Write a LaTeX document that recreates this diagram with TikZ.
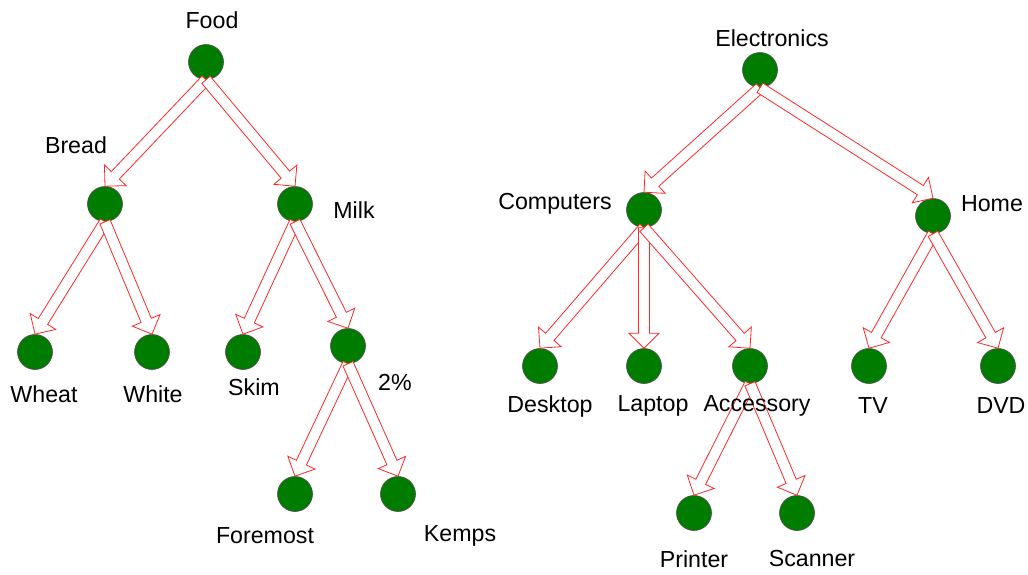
\documentclass[tikz,border=0pt]{standalone}
\usepackage{fontspec}
\setmainfont{Liberation Sans}
\usetikzlibrary{calc}
\definecolor{nodegreen}{RGB}{0,125,0}
\definecolor{arrred}{RGB}{255,40,40}
\tikzset{
  leaf/.style={circle,fill=nodegreen,draw=black!70,line width=0.6pt,minimum size=35pt,inner sep=0pt},
  lbl/.style={font=\fontsize{23.2}{27}\selectfont,inner sep=0pt,anchor=center},
  arrowline/.style={draw=arrred,fill=white,line width=0.8pt,line join=miter}
}
\newcommand\hollowarrow[2]{%
  \coordinate (s) at (#1.south);
  \coordinate (t) at (#2.north);
  \coordinate (h) at ($(t)!15pt!(s)$);
  \draw[arrowline] ($(s)!5.5pt!90:(t)$) -- ($(h)!5.5pt!-90:(s)$) -- ($(h)!15pt!-90:(s)$) -- (t)
     -- ($(h)!15pt!90:(s)$) -- ($(h)!5.5pt!90:(s)$) -- ($(s)!5.5pt!-90:(t)$) -- cycle;
}
\begin{document}
\begin{tikzpicture}[x=1pt,y=-1pt]
\useasboundingbox (0,0) rectangle (1028,574);
% nodes
\node[leaf] (food) at (206,62) {};
\node[leaf] (bread) at (105,204) {};
\node[leaf] (milk) at (295,204) {};
\node[leaf] (wheat) at (35,352) {};
\node[leaf] (white) at (152,352) {};
\node[leaf] (skim) at (243,352) {};
\node[leaf] (two) at (348,346) {};
\node[leaf] (foremost) at (295,494) {};
\node[leaf] (kemps) at (398,494) {};
\node[leaf] (elec) at (760,70) {};
\node[leaf] (comp) at (644,210) {};
\node[leaf] (home) at (933,216) {};
\node[leaf] (desk) at (540,366) {};
\node[leaf] (lap) at (644,366) {};
\node[leaf] (acc) at (750,366) {};
\node[leaf] (tv) at (869,366) {};
\node[leaf] (dvd) at (998,366) {};
\node[leaf] (print) at (694,513) {};
\node[leaf] (scan) at (797,513) {};
% arrows
\hollowarrow{food}{bread}
\hollowarrow{food}{milk}
\hollowarrow{bread}{wheat}
\hollowarrow{bread}{white}
\hollowarrow{milk}{skim}
\hollowarrow{milk}{two}
\hollowarrow{two}{foremost}
\hollowarrow{two}{kemps}
\hollowarrow{elec}{comp}
\hollowarrow{elec}{home}
\hollowarrow{comp}{desk}
\hollowarrow{comp}{lap}
\hollowarrow{comp}{acc}
\hollowarrow{home}{tv}
\hollowarrow{home}{dvd}
\hollowarrow{acc}{print}
\hollowarrow{acc}{scan}
% labels
\node[lbl] (foodL) at (212,20) {Food};
\node[lbl] (breadL) at (76,145) {Bread};
\node[lbl] (milkL) at (354,210) {Milk};
\node[lbl] (wheatL) at (44,394) {Wheat};
\node[lbl] (whiteL) at (153,394) {White};
\node[lbl] (skimL) at (254,387) {Skim};
\node[lbl] (twoL) at (395,382) {2\%};
\node[lbl] (foremostL) at (265,536) {Foremost};
\node[lbl] (kempsL) at (460,536) {Kemps};
\node[lbl] (elecL) at (772,38) {Electronics};
\node[lbl] (compL) at (555,204) {Computers};
\node[lbl] (homeL) at (992,204) {Home};
\node[lbl] (deskL) at (550,406) {Desktop};
\node[lbl] (lapL) at (653,406) {Laptop};
\node[lbl] (accL) at (757,406) {Accessory};
\node[lbl] (tvL) at (873,406) {TV};
\node[lbl] (dvdL) at (1001,406) {DVD};
\node[lbl] (printL) at (694,559) {Printer};
\node[lbl] (scanL) at (812,559) {Scanner};
\end{tikzpicture}
\end{document}
